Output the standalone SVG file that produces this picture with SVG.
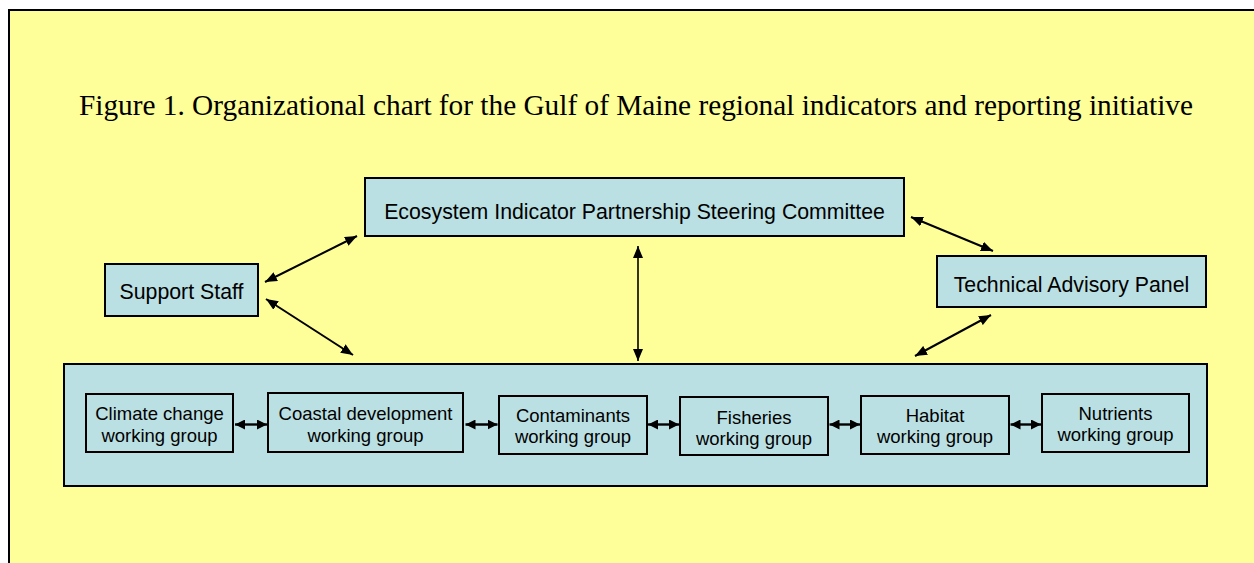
<svg xmlns="http://www.w3.org/2000/svg" width="1254" height="563" viewBox="0 0 1254 563">
  <style>
    .node { fill: #BBE0E3; stroke: #000; stroke-width: 2; }
    .label { font-family: "Liberation Sans", Arial, sans-serif; font-size: 21.3px; fill: #000; text-anchor: middle; }
    .wg { font-family: "Liberation Sans", Arial, sans-serif; font-size: 18.5px; fill: #000; text-anchor: middle; }
    .title { font-family: "Liberation Serif", "Times New Roman", serif; font-size: 29.3px; fill: #000; }
    .link { stroke: #000; stroke-width: 2; fill: none; marker-start: url(#head); marker-end: url(#head); }
    .link-thin { stroke: #000; stroke-width: 1.6; fill: none; marker-start: url(#head); marker-end: url(#head); }
    .link-wg { stroke: #000; stroke-width: 2.4; fill: none; marker-start: url(#headSmall); marker-end: url(#headSmall); }
  </style>
  <defs>
    <marker id="head" markerUnits="userSpaceOnUse" markerWidth="12" markerHeight="10" refX="12" refY="5" orient="auto-start-reverse">
      <path d="M0,0 L12,5 L0,10 Z" fill="#000"/>
    </marker>
    <marker id="headSmall" markerUnits="userSpaceOnUse" markerWidth="10" markerHeight="10" refX="10" refY="5" orient="auto-start-reverse">
      <path d="M0,0 L10,5 L0,10 Z" fill="#000"/>
    </marker>
  </defs>

  <!-- page background -->
  <rect x="0" y="0" width="1254" height="563" fill="#FFFFFF"/>
  <rect id="frame" x="9" y="10" width="1260" height="570" fill="#FFFF99" stroke="#000" stroke-width="2"/>

  <text class="title" x="79" y="115">Figure 1. Organizational chart for the Gulf of Maine regional indicators and reporting initiative</text>

  <g id="steering-committee">
    <rect class="node" x="365" y="178" width="539" height="58"/>
    <text class="label" x="634.5" y="219">Ecosystem Indicator Partnership Steering Committee</text>
  </g>

  <g id="support-staff">
    <rect class="node" x="105" y="264" width="153" height="52"/>
    <text class="label" x="181.5" y="299">Support Staff</text>
  </g>

  <g id="technical-advisory-panel">
    <rect class="node" x="937" y="256" width="269" height="51"/>
    <text class="label" x="1071.5" y="292">Technical Advisory Panel</text>
  </g>

  <g id="working-groups">
    <rect class="node" x="64" y="364" width="1143" height="122"/>

    <g id="wg-climate">
      <rect class="node" x="86" y="394" width="147" height="58"/>
      <text class="wg" x="159.5" y="420">Climate change</text>
      <text class="wg" x="159.5" y="442">working group</text>
    </g>
    <g id="wg-coastal">
      <rect class="node" x="268" y="393" width="195" height="59"/>
      <text class="wg" x="365.5" y="420">Coastal development</text>
      <text class="wg" x="365.5" y="442">working group</text>
    </g>
    <g id="wg-contaminants">
      <rect class="node" x="499" y="396" width="148" height="58"/>
      <text class="wg" x="573" y="422">Contaminants</text>
      <text class="wg" x="573" y="443">working group</text>
    </g>
    <g id="wg-fisheries">
      <rect class="node" x="680" y="397" width="148" height="58"/>
      <text class="wg" x="754" y="423.5">Fisheries</text>
      <text class="wg" x="754" y="444.5">working group</text>
    </g>
    <g id="wg-habitat">
      <rect class="node" x="861" y="396" width="148" height="58"/>
      <text class="wg" x="935" y="422">Habitat</text>
      <text class="wg" x="935" y="443">working group</text>
    </g>
    <g id="wg-nutrients">
      <rect class="node" x="1042" y="394" width="147" height="58"/>
      <text class="wg" x="1115.5" y="420">Nutrients</text>
      <text class="wg" x="1115.5" y="441">working group</text>
    </g>
  </g>

  <g id="connectors">
    <line class="link" x1="265" y1="282" x2="357" y2="236"/>
    <line class="link" x1="266" y1="299" x2="353" y2="355"/>
    <line class="link" x1="911" y1="217" x2="993" y2="251"/>
    <line class="link" x1="991" y1="315" x2="915" y2="356"/>
    <line class="link-thin" x1="638" y1="246" x2="638" y2="361"/>

    <line class="link-wg" x1="235" y1="424.5" x2="267" y2="424.5"/>
    <line class="link-wg" x1="465.5" y1="424.5" x2="497.5" y2="424.5"/>
    <line class="link-wg" x1="648" y1="424.5" x2="679" y2="424.5"/>
    <line class="link-wg" x1="829.5" y1="424.5" x2="860" y2="424.5"/>
    <line class="link-wg" x1="1010.5" y1="424.5" x2="1041" y2="424.5"/>
  </g>
</svg>
